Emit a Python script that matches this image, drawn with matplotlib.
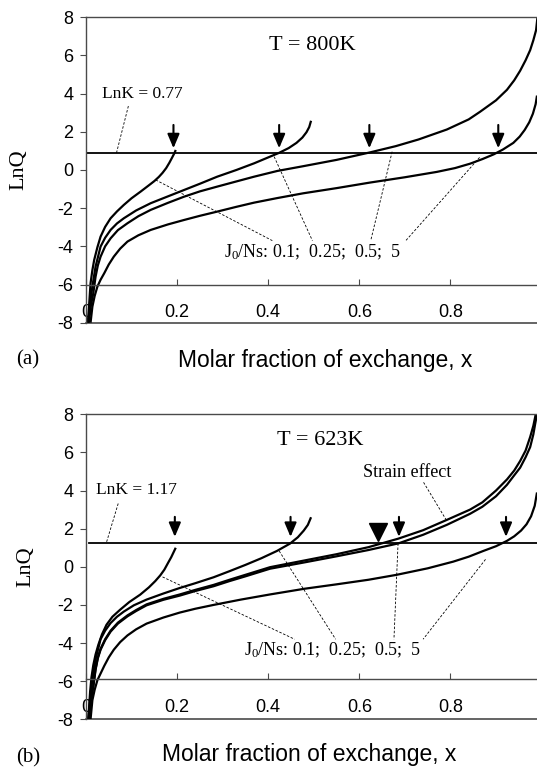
import matplotlib
matplotlib.use("Agg")
import matplotlib.pyplot as plt

plt.rcParams['axes.unicode_minus'] = False
plt.rcParams['mathtext.fontset'] = 'custom'
plt.rcParams['mathtext.rm'] = 'Liberation Serif'
plt.rcParams['mathtext.default'] = 'rm'

SANS = 'Liberation Sans'
SERIF = 'Liberation Serif'

# ---- panel (a): T = 800K ----
xa_01 = [0.004, 0.0066, 0.010, 0.014, 0.018, 0.025, 0.032, 0.042, 0.054, 0.068, 0.083, 0.100, 0.120,
         0.137, 0.150, 0.160, 0.168, 0.176, 0.183, 0.189, 0.194, 0.197]
ya_01 = [-8.0, -7.16, -5.93, -5.25, -4.71, -4.05, -3.49, -2.98, -2.53, -2.17, -1.83, -1.48, -1.13,
         -0.82, -0.58, -0.36, -0.15, 0.1, 0.38, 0.65, 0.88, 1.05]
xa_025 = [0.005, 0.009, 0.014, 0.021, 0.032, 0.042, 0.054, 0.068, 0.083, 0.110, 0.142, 0.180, 0.215,
          0.250, 0.288, 0.330, 0.369, 0.404, 0.424, 0.445, 0.462, 0.475, 0.484, 0.490, 0.494]
ya_025 = [-8.0, -7.0, -6.1, -5.06, -4.01, -3.55, -3.14, -2.8, -2.53, -2.12, -1.74, -1.38, -1.05,
          -0.72, -0.35, 0.0, 0.35, 0.70, 0.90, 1.15, 1.42, 1.7, 1.98, 2.25, 2.58]
xa_05 = [0.006, 0.010, 0.016, 0.021, 0.026, 0.032, 0.042, 0.054, 0.070, 0.091, 0.115, 0.142, 0.180,
         0.215, 0.250, 0.288, 0.330, 0.369, 0.420, 0.477, 0.550, 0.623, 0.680, 0.730, 0.792, 0.840,
         0.865, 0.900, 0.924, 0.940, 0.953, 0.965, 0.975, 0.982, 0.988, 0.991]
ya_05 = [-8.0, -7.2, -6.46, -5.59, -5.0, -4.54, -4.0, -3.58, -3.15, -2.79, -2.42, -2.09, -1.72,
         -1.40, -1.12, -0.87, -0.6, -0.35, -0.05, 0.20, 0.53, 0.92, 1.25, 1.6, 2.12, 2.65,
         3.05, 3.65, 4.2, 4.7, 5.2, 5.75, 6.28, 6.8, 7.33, 8.0]
xa_5 = [0.010, 0.014, 0.019, 0.025, 0.032, 0.040, 0.050, 0.061, 0.075, 0.091, 0.115, 0.142, 0.180,
        0.215, 0.250, 0.288, 0.330, 0.369, 0.420, 0.477, 0.550, 0.623, 0.700, 0.770, 0.810, 0.843,
        0.870, 0.895, 0.915, 0.938, 0.952, 0.963, 0.973, 0.981, 0.987, 0.990]
ya_5 = [-8.0, -7.16, -6.6, -6.11, -5.75, -5.41, -4.95, -4.54, -4.12, -3.75, -3.42, -3.14, -2.85,
        -2.62, -2.40, -2.18, -1.93, -1.71, -1.47, -1.22, -0.95, -0.66, -0.38, -0.10, 0.1, 0.33,
        0.57, 0.82, 1.07, 1.42, 1.75, 2.1, 2.5, 2.95, 3.45, 3.9]
lnk_a = 0.9
arrows_a = [0.192, 0.424, 0.622, 0.905]

# ---- panel (b): T = 623K ----
xb_01 = [0.005, 0.007, 0.009, 0.012, 0.016, 0.021, 0.027, 0.035, 0.045, 0.058, 0.075, 0.095, 0.119,
         0.138, 0.152, 0.163, 0.172, 0.180, 0.187, 0.193, 0.197]
yb_01 = [-8.0, -7.3, -6.56, -5.8, -5.16, -4.6, -4.1, -3.55, -3.04, -2.62, -2.25, -1.85, -1.46,
         -1.08, -0.75, -0.45, -0.15, 0.2, 0.5, 0.8, 1.0]
xb_025 = [0.005, 0.009, 0.014, 0.021, 0.032, 0.042, 0.054, 0.068, 0.083, 0.105, 0.133, 0.170, 0.206,
          0.240, 0.280, 0.315, 0.350, 0.385, 0.419, 0.448, 0.465, 0.478, 0.487, 0.494]
yb_025 = [-8.0, -6.9, -5.9, -4.85, -3.8, -3.35, -2.95, -2.62, -2.35, -2.02, -1.72, -1.40, -1.11,
          -0.86, -0.55, -0.23, 0.1, 0.45, 0.83, 1.22, 1.55, 1.9, 2.2, 2.6]
xb_05 = [0.006, 0.010, 0.016, 0.021, 0.026, 0.032, 0.042, 0.054, 0.070, 0.091, 0.110, 0.133, 0.170,
         0.206, 0.240, 0.280, 0.315, 0.350, 0.404, 0.477, 0.550, 0.620, 0.686, 0.740, 0.792, 0.843,
         0.870, 0.900, 0.924, 0.940, 0.953, 0.965, 0.975, 0.982, 0.986, 0.990]
yb_05 = [-8.0, -7.1, -6.3, -5.4, -4.8, -4.35, -3.85, -3.4, -2.98, -2.6, -2.32, -2.02, -1.73,
         -1.51, -1.27, -1.02, -0.75, -0.5, -0.1, 0.22, 0.55, 0.88, 1.23, 1.68, 2.2, 2.78,
         3.15, 3.7, 4.3, 4.8, 5.2, 5.75, 6.28, 6.95, 7.5, 8.0]
xb_strain = [0.006, 0.010, 0.016, 0.021, 0.026, 0.032, 0.042, 0.054, 0.070, 0.091, 0.110, 0.133, 0.170,
             0.206, 0.240, 0.280, 0.315, 0.350, 0.404, 0.477, 0.550, 0.620, 0.686, 0.740, 0.792, 0.843,
             0.870, 0.900, 0.924, 0.940, 0.953, 0.965, 0.975, 0.982, 0.986, 0.990]
yb_strain = [-8.0, -7.05, -6.25, -5.35, -4.75, -4.3, -3.8, -3.35, -2.93, -2.55, -2.27, -1.97, -1.68,
             -1.45, -1.21, -0.95, -0.68, -0.42, -0.02, 0.32, 0.66, 1.03, 1.48, 1.92, 2.46, 3.0,
             3.38, 4.0, 4.58, 5.05, 5.55, 6.1, 6.81, 7.4, 7.86, 8.4]
xb_5 = [0.010, 0.014, 0.019, 0.025, 0.032, 0.040, 0.050, 0.061, 0.075, 0.091, 0.110, 0.133, 0.170,
        0.206, 0.240, 0.280, 0.340, 0.404, 0.480, 0.550, 0.620, 0.682, 0.750, 0.806, 0.840, 0.872,
        0.900, 0.924, 0.940, 0.955, 0.967, 0.977, 0.985, 0.990]
yb_5 = [-8.0, -7.0, -6.45, -5.95, -5.6, -5.2, -4.75, -4.35, -3.95, -3.6, -3.28, -2.98, -2.66,
        -2.4, -2.2, -2.0, -1.72, -1.45, -1.15, -0.92, -0.68, -0.42, -0.08, 0.27, 0.53, 0.83,
        1.08, 1.36, 1.6, 1.9, 2.23, 2.65, 3.2, 3.9]
lnk_b = 1.23
arrows_b = [0.195, 0.449, 0.687, 0.922]
strain_x = 0.642

xticks = [0, 0.2, 0.4, 0.6, 0.8]
xtick_labels = ['0', '0.2', '0.4', '0.6', '0.8']
yticks = [8, 6, 4, 2, 0, -2, -4, -6, -8]

W, H = 537, 769
fig = plt.figure(figsize=(W / 100, H / 100), dpi=100)

AXC = '#4a4a4a'
LEAD = dict(color='k', lw=0.6, ls=(0, (3, 2)))


def setup(ax, axis_y):
    ax.set_xlim(0, 0.99)
    ax.set_ylim(-8, 8)
    ax.spines['right'].set_visible(False)
    ax.spines['bottom'].set_position(('data', axis_y))
    for s in ['left', 'top', 'bottom']:
        ax.spines[s].set_color(AXC)
        ax.spines[s].set_linewidth(1.0)
    ax.axhline(-8, color=AXC, lw=1.2, clip_on=False)
    ax.set_xticks(xticks)
    ax.set_xticklabels(xtick_labels)
    ax.set_yticks(yticks)
    ax.set_yticklabels([str(v) for v in yticks])
    ax.tick_params(axis='x', direction='in', length=4, pad=14, color=AXC, labelsize=13)
    ax.tick_params(axis='y', direction='out', length=4, pad=5, color=AXC, labelsize=13)
    for lab in ax.get_xticklabels() + ax.get_yticklabels():
        lab.set_family(SANS)


def arrows(ax, xs, tip, top):
    for x in xs:
        ax.annotate('', xy=(x, tip), xytext=(x, top),
                    arrowprops=dict(arrowstyle='-|>,head_length=0.85,head_width=0.36',
                                    color='k', lw=1.5, shrinkA=0, shrinkB=0))


# ---------------- (a) ----------------
ax1 = fig.add_axes([86 / W, 1 - 322.7 / H, 1 - 86 / W, 305.4 / H])
setup(ax1, -6)
for xs, ys in [(xa_01, ya_01), (xa_025, ya_025), (xa_05, ya_05), (xa_5, ya_5)]:
    ax1.plot(xs, ys, color='k', lw=1.6, solid_capstyle='butt')
ax1.axhline(lnk_a, color='k', lw=1.3)
arrows(ax1, arrows_a, 1.14, 2.36)
ax1.text(0.497, 6.54, 'T = 800K', family=SERIF, fontsize=16, ha='center', va='center')
ax1.text(0.123, 3.98, 'LnK = 0.77', family=SERIF, fontsize=12.5, ha='center', va='center')
ax1.text(0.497, -4.29, r'J$_0$/Ns: 0.1;  0.25;  0.5;  5', family=SERIF, fontsize=13,
         ha='center', va='center')
ax1.plot([0.093, 0.067], [3.35, lnk_a], **LEAD)
ax1.plot([0.153, 0.409], [-0.52, -3.70], **LEAD)
ax1.plot([0.413, 0.497], [0.70, -3.70], **LEAD)
ax1.plot([0.672, 0.625], [0.96, -3.70], **LEAD)
ax1.plot([0.864, 0.702], [0.66, -3.70], **LEAD)

# ---------------- (b) ----------------
ax2 = fig.add_axes([86 / W, 1 - 719.3 / H, 1 - 86 / W, 305.0 / H])
setup(ax2, -5.9)
for xs, ys in [(xb_01, yb_01), (xb_025, yb_025), (xb_05, yb_05), (xb_strain, yb_strain), (xb_5, yb_5)]:
    ax2.plot(xs, ys, color='k', lw=1.6, solid_capstyle='butt')
ax2.plot([0.007, 0.99], [lnk_b, lnk_b], color='k', lw=1.3)
arrows(ax2, arrows_b, 1.57, 2.62)
ax2.plot([strain_x], [1.82], marker='v', ms=13.5, color='k', ls='none')
ax2.text(0.515, 6.65, 'T = 623K', family=SERIF, fontsize=16, ha='center', va='center')
ax2.text(0.1115, 4.01, 'LnK = 1.17', family=SERIF, fontsize=12.5, ha='center', va='center')
ax2.text(0.704, 4.96, 'Strain effect', family=SERIF, fontsize=13, ha='center', va='center')
ax2.text(0.541, -4.38, r'J$_0$/Ns: 0.1;  0.25;  0.5;  5', family=SERIF, fontsize=13,
         ha='center', va='center')
ax2.plot([0.0707, 0.0443], [3.32, lnk_b], **LEAD)
ax2.plot([0.168, 0.458], [-0.53, -3.80], **LEAD)
ax2.plot([0.424, 0.548], [0.83, -3.80], **LEAD)
ax2.plot([0.685, 0.676], [lnk_b, -3.80], **LEAD)
ax2.plot([0.877, 0.740], [0.39, -3.80], **LEAD)
ax2.plot([0.741, 0.792], [4.43, 2.41], **LEAD)

# labels
for xq, yq, xlab, ylab, tag, ytag in [(19, 170, 325, 360, '(a)', 360),
                                      (25.7, 566.7, 309, 754, '(b)', 758)]:
    fig.text(xq / W, 1 - yq / H, 'LnQ', family=SERIF, fontsize=16, rotation=90,
             ha='center', va='center')
    fig.text(xlab / W, 1 - ylab / H, 'Molar fraction of exchange, x', family=SANS,
             fontsize=16.5, ha='center', va='center')
    fig.text(28 / W, 1 - ytag / H, tag, family=SERIF, fontsize=15, ha='center', va='center')

fig.savefig('out.png', dpi=100)
